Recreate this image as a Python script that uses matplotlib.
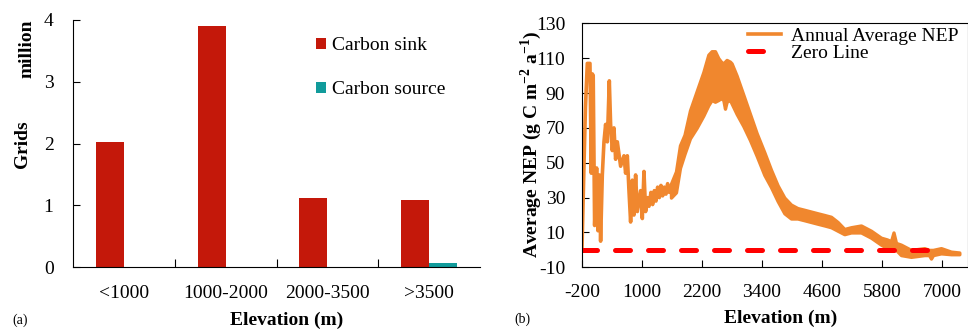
import numpy as np
import matplotlib.pyplot as plt

plt.rcParams['font.family'] = ['Liberation Serif', 'DejaVu Serif']
plt.rcParams['font.size'] = 14
plt.rcParams['axes.unicode_minus'] = False
plt.rcParams['mathtext.fontset'] = 'custom'
plt.rcParams['mathtext.rm'] = 'Liberation Serif'
plt.rcParams['mathtext.bf'] = 'Liberation Serif:bold'

# (a) grid counts per elevation class, million
classes = ['<1000', '1000-2000', '2000-3500', '>3500']
sink = [2.02, 3.90, 1.12, 1.09]
source = [0.0, 0.0, 0.0, 0.07]

# (b) annual average NEP against elevation
# low elevations: single spiky line
spike_elev = [-200, -160, -130, -93, -40, -13, 7, 25, 53, 93, 120, 147, 173,
              207, 240, 273, 307, 347, 373, 407, 440, 473, 507, 573, 640, 673,
              707, 740, 773, 807, 840, 873, 907, 973, 1007, 1040, 1073, 1107,
              1140, 1180, 1213, 1247, 1280, 1313, 1347, 1380, 1413, 1447, 1480,
              1513, 1547, 1580]
spike_nep = [0, 48, 82, 107, 107, 44, 101, 100, 14, 47, 11, 43, 5,
             43, 62, 72, 62, 97, 72, 57, 70, 52, 62, 48, 54, 44,
             54, 34, 16, 40, 20, 43, 22, 34, 18, 45, 22, 30,
             25, 33, 26, 34, 28, 36, 30, 37, 31, 36, 32,
             38, 33, 35]
# higher elevations: noisy band (upper / lower edge)
band_elev = [1580, 1680, 1760, 1850, 1960, 2093, 2227, 2327, 2393, 2460, 2527,
             2580, 2627, 2660, 2693, 2760, 2793, 2893, 3027, 3160, 3293, 3447,
             3580, 3713, 3847, 3980, 4110, 4247, 4380, 4513, 4650, 4780, 4913,
             5047, 5180, 5380, 5580, 5780, 5900, 5980, 6030, 6080, 6180, 6380,
             6647, 6740, 6780, 6820, 6980, 7180, 7347]
band_hi = [38, 45, 60, 66, 80, 91, 102, 112, 114, 114, 110,
           108, 107, 108, 109, 108, 107, 100, 89, 78, 67, 56,
           46, 37, 30, 26, 24, 23, 22, 21, 20, 19, 16,
           12, 13, 14, 11, 7, 6, 5, 10, 4, 3, 0,
           1, 0, 0, 0, 1, -1, -1.5]
band_lo = [30, 33, 47, 55, 64, 70, 77, 83, 86, 85, 86,
           87, 86, 81, 85, 86, 84, 78, 71, 63, 54, 43,
           36, 28, 21, 18, 18, 17, 16, 15, 14, 13, 11,
           9, 10, 10, 7, 3, 1, 1, 1, 0, -3, -4,
           -3, -3, -5, -3, -2, -2.5, -2.5]
zero_elev = [-200, 7050]
zero_nep = [0, 0]

fig = plt.figure(figsize=(9.68, 3.29), dpi=100)

# ---- panel (a)
ax1 = fig.add_axes([0.0754, 0.1875, 0.4205, 0.752])
pos = np.arange(len(classes))
w = 0.275
ax1.bar(pos - w / 2, sink, w, color='#C4180A', label='Carbon sink')
ax1.bar(pos + w / 2, source, w, color='#119B9B', label='Carbon source')
ax1.set_xlim(-0.5, 3.5)
ax1.set_ylim(0, 4)
ax1.set_yticks([0, 1, 2, 3, 4])
ax1.set_xticks([0.5, 1.5, 2.5])
ax1.set_xticklabels([])
ax1.set_xticks(pos, minor=True)
ax1.set_xticklabels(classes, minor=True)
ax1.tick_params(axis='x', which='major', direction='in', length=6)
ax1.tick_params(axis='x', which='minor', length=0, pad=13)
ax1.tick_params(axis='y', direction='in', length=5, pad=14)
ax1.spines['top'].set_visible(False)
ax1.spines['right'].set_visible(False)
ax1.legend(loc='upper left', bbox_to_anchor=(0.597, 0.93), frameon=False,
           handlelength=0.5, handleheight=0.5, handletextpad=0.3,
           labelspacing=1.4, borderpad=0, borderaxespad=0)
fig.text(23 / 968, 1 - 144 / 329, 'Grids', rotation=90, fontweight='bold',
         ha='center', va='center')
fig.text(27 / 968, 1 - 49 / 329, 'million', rotation=90, fontweight='bold',
         ha='center', va='center')
fig.text(287 / 968, 1 - 320 / 329, 'Elevation (m)', fontweight='bold',
         ha='center', va='center')
fig.text(20 / 968, 1 - 320 / 329, '(a)', fontsize=10, ha='center', va='center')

# ---- panel (b)
ax2 = fig.add_axes([0.6012, 0.1875, 0.3988, 0.7416])
orange = '#F0872E'
ax2.plot(spike_elev, spike_nep, color=orange, lw=2.6, label='Annual Average NEP')
ax2.fill_between(band_elev, band_lo, band_hi, color=orange, lw=2.4, edgecolor=orange)
ax2.plot(zero_elev, zero_nep, color='#FF0000', lw=3.6, dash_capstyle='round',
         linestyle=(0, (3.0, 3.6)), label='Zero Line')
ax2.set_xlim(-200, 7520)
ax2.set_ylim(-10, 130)
ax2.set_xticks(np.arange(-200, 7001, 1200))
ax2.set_yticks(np.arange(-10, 131, 20))
ax2.tick_params(direction='in', length=5)
ax2.tick_params(axis='x', pad=12)
ax2.tick_params(axis='y', pad=12)
ax2.legend(loc='upper left', bbox_to_anchor=(0.43, 0.985), frameon=False,
           handlelength=1.7, handletextpad=0.5, labelspacing=0.0,
           borderpad=0, borderaxespad=0)
fig.text(531 / 968, 1 - 144 / 329,
         r'Average NEP (g C m$^{\mathbf{-2}}$ a$^{\mathbf{-1}}$)',
         rotation=90, fontweight='bold', ha='center', va='center')
fig.text(781 / 968, 1 - 318 / 329, 'Elevation (m)', fontweight='bold',
         ha='center', va='center')
fig.text(522 / 968, 1 - 319 / 329, '(b)', fontsize=10, ha='center', va='center')

fig.savefig('out.png', dpi=100)
